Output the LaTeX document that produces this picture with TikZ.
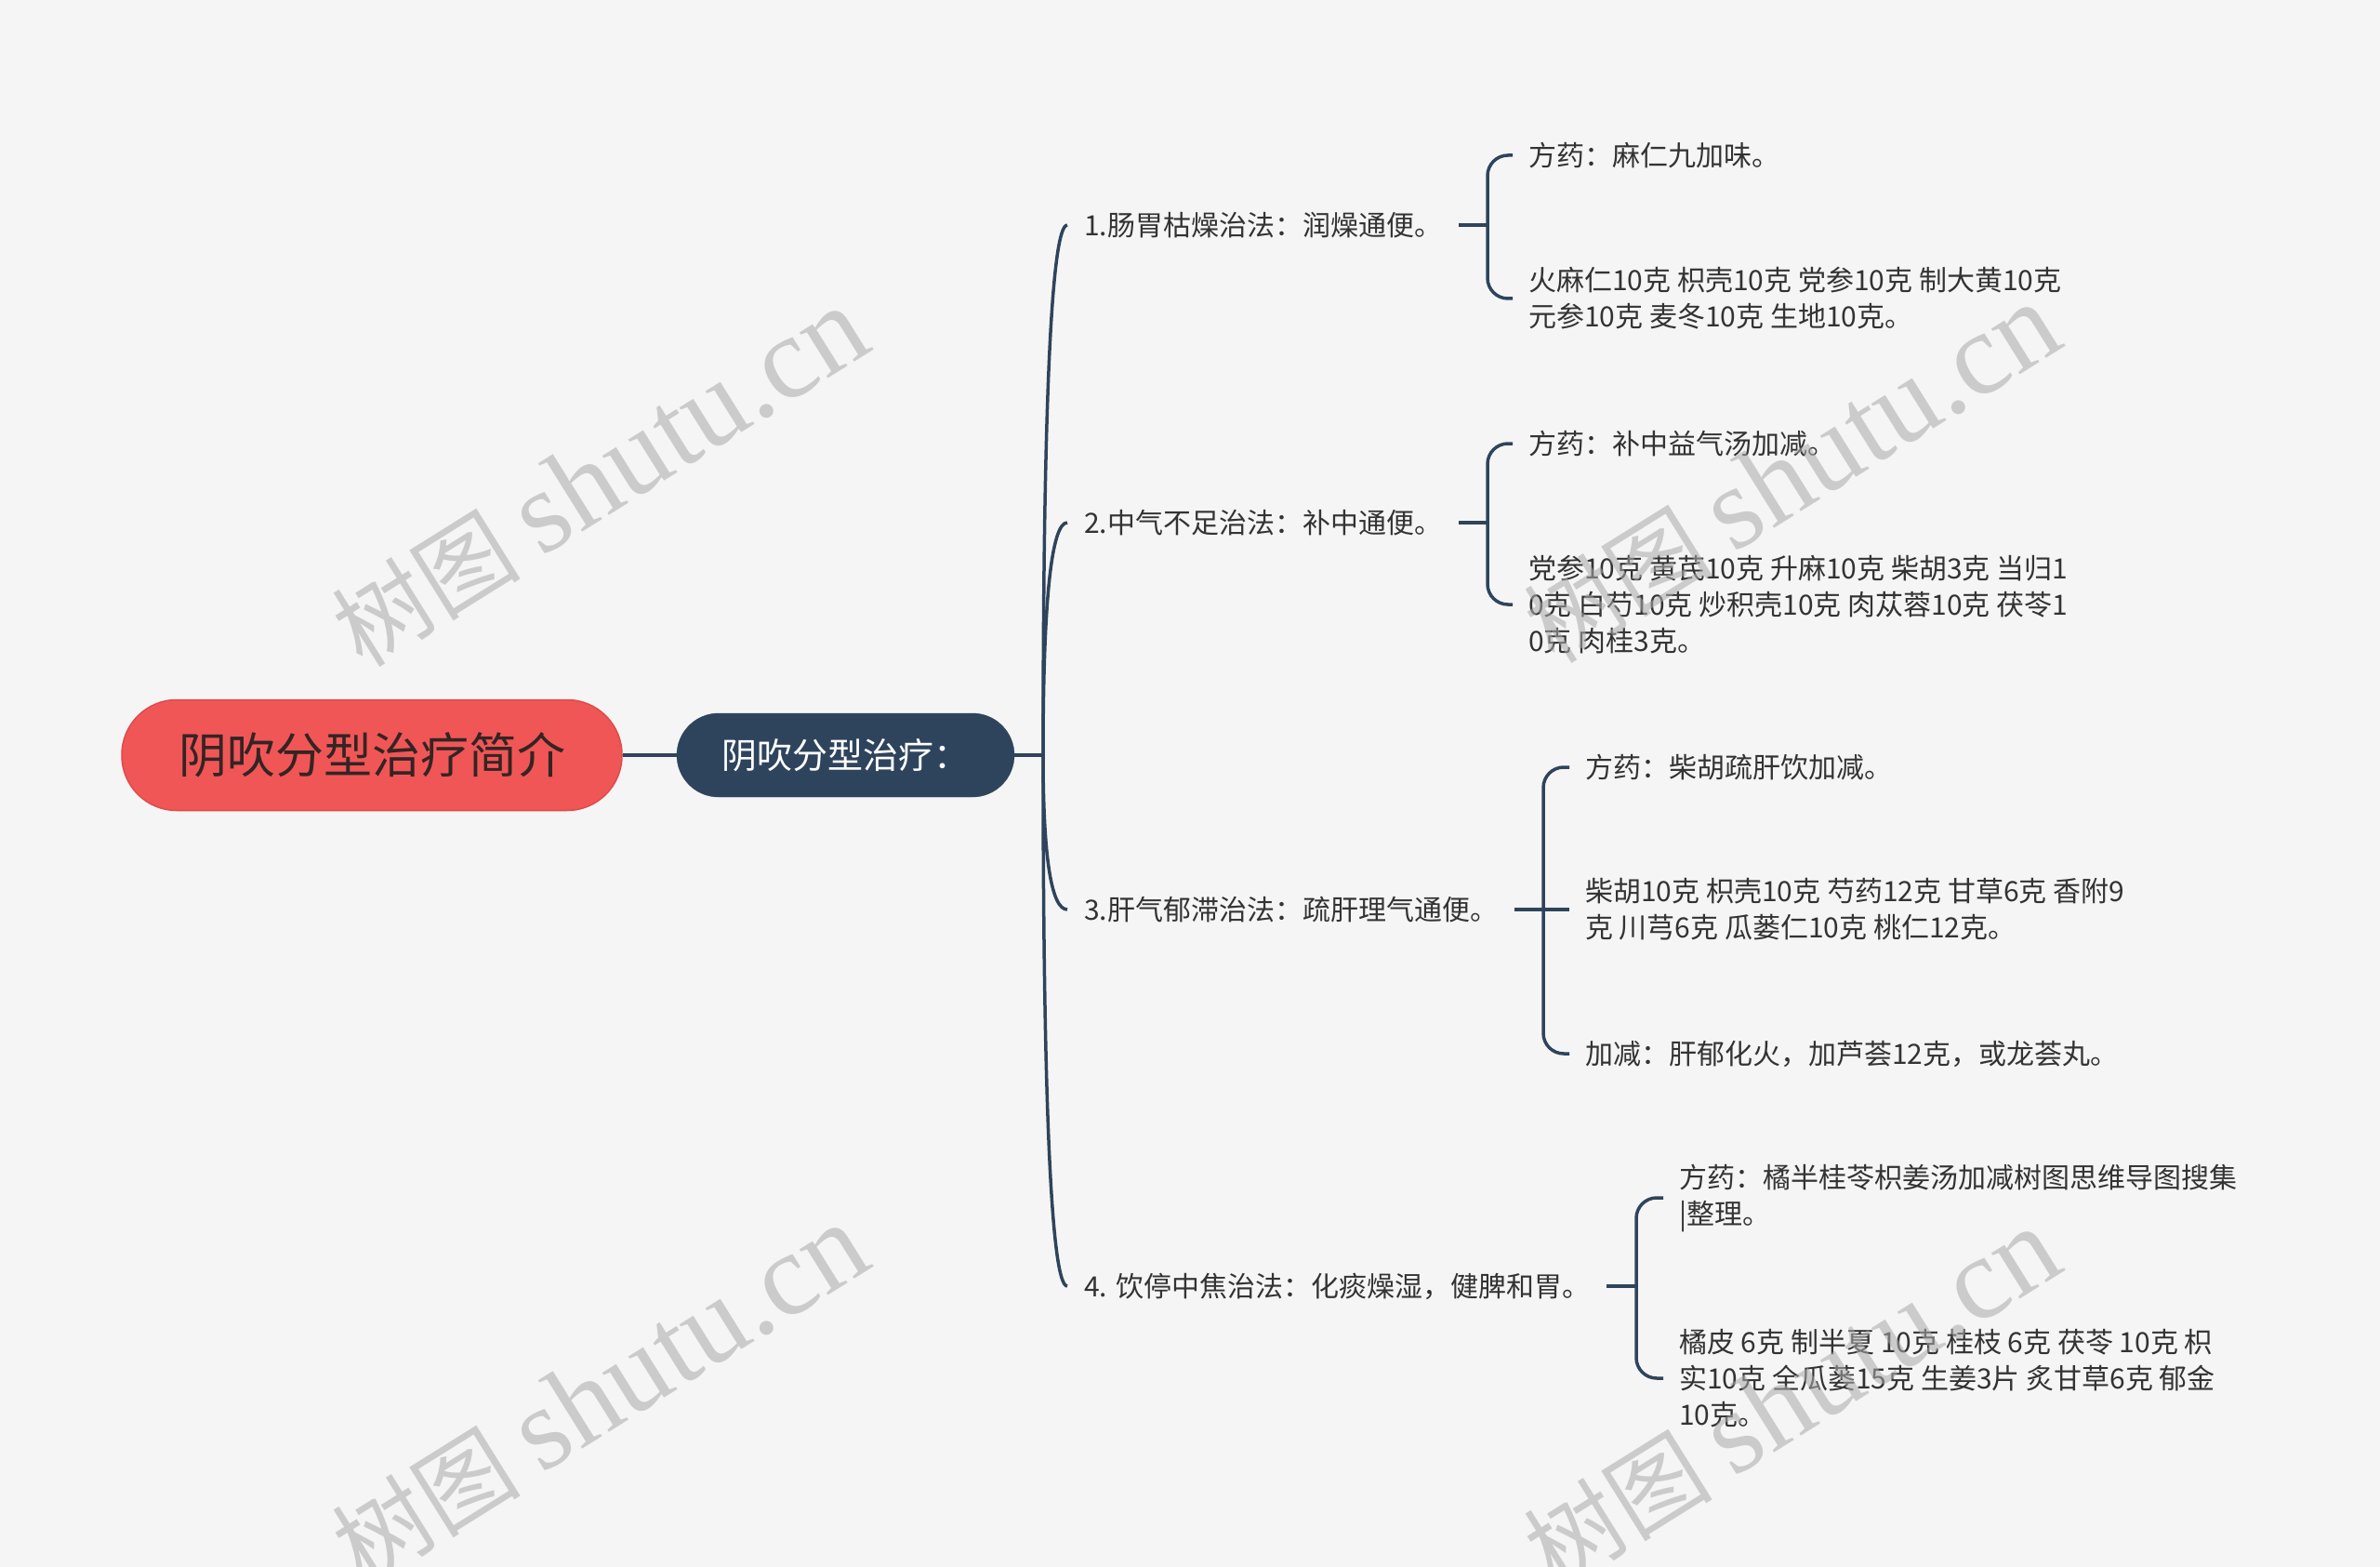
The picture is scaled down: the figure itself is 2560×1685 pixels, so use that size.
\documentclass[tikz,border=0pt]{standalone}
\usepackage{fontspec}
\setmainfont{Noto Sans CJK SC}
\newfontfamily\wmlat{Liberation Serif}
\definecolor{bg}{RGB}{245,245,245}
\definecolor{linec}{RGB}{46,68,92}
\definecolor{rootfill}{RGB}{240,86,86}
\definecolor{rootedge}{RGB}{222,76,76}
\definecolor{roottext}{RGB}{52,36,36}
\definecolor{txt}{RGB}{51,51,51}
\definecolor{wm}{RGB}{170,170,170}
\begin{document}
\begin{tikzpicture}[x=1pt,y=-1pt,
  conn/.style={draw=linec,line width=3.5pt},
  rootbox/.style={fill=rootfill,draw=rootedge,line width=1.5pt,rounded corners=59pt,
    minimum width=538pt,minimum height=119pt,inner sep=0pt,text=roottext,
    font=\fontsize{52}{60}\selectfont},
  mainbox/.style={fill=linec,draw=linec,rounded corners=45pt,
    minimum width=363pt,minimum height=90pt,inner sep=0pt,text=white,
    font=\fontsize{38}{44}\selectfont},
  branch/.style={anchor=west,inner xsep=18pt,inner ysep=2pt,text=txt,align=left,
    font=\fontsize{30}{39}\selectfont},
  leaf/.style={anchor=west,inner xsep=17pt,inner ysep=2pt,text=txt,align=left,
    font=\fontsize{30}{39}\selectfont},
  wmark/.style={rotate=32,text=wm,text opacity=0.55,inner sep=0pt,
    font=\fontsize{102}{120}\selectfont}
]
\fill[bg] (0,0) rectangle (2560,1685);
\useasboundingbox (0,0) rectangle (2560,1685);

% central nodes
\node[rootbox] (root) at (400,812) {阴吹分型治疗简介};
\node[mainbox] (main) at (909.5,812) {阴吹分型治疗：};
\coordinate (J) at (1122,812);

% branches
\node[branch] (b1) at (1148,242) {1.肠胃枯燥治法：润燥通便。};
\node[branch] (b2) at (1148,562) {2.中气不足治法：补中通便。};
\node[branch] (b3) at (1148,978) {3.肝气郁滞治法：疏肝理气通便。};
\node[branch] (b4) at (1148,1383) {4. 饮停中焦治法：化痰燥湿，健脾和胃。};

% junctions
\coordinate (j1) at (1600,242);
\coordinate (j2) at (1600,562);
\coordinate (j3) at (1660,978);
\coordinate (j4) at (1760,1383);

% leaves
\node[leaf] (l1a) at (1627,167) {方药：麻仁九加味。};
\node[leaf] (l1b) at (1627,321) {火麻仁10克 枳壳10克 党参10克 制大黄10克\\元参10克 麦冬10克 生地10克。};
\node[leaf] (l2a) at (1627,477) {方药：补中益气汤加减。};
\node[leaf] (l2b) at (1627,650) {党参10克 黄芪10克 升麻10克 柴胡3克 当归1\\0克 白芍10克 炒积壳10克 肉苁蓉10克 茯苓1\\0克 肉桂3克。};
\node[leaf] (l3a) at (1688,825) {方药：柴胡疏肝饮加减。};
\node[leaf] (l3b) at (1688,978) {柴胡10克 枳壳10克 芍药12克 甘草6克 香附9\\克 川芎6克 瓜蒌仁10克 桃仁12克。};
\node[leaf] (l3c) at (1688,1133) {加减：肝郁化火，加芦荟12克，或龙荟丸。};
\node[leaf] (l4a) at (1789,1288) {方药：橘半桂苓枳姜汤加减树图思维导图搜集\\|整理。};
\node[leaf] (l4b) at (1789,1482) {橘皮 6克 制半夏 10克 桂枝 6克 茯苓 10克 枳\\实10克 全瓜蒌15克 生姜3片 炙甘草6克 郁金\\10克。};

% connectors
\draw[conn] (root.east) -- (main.west);
\draw[conn] (main.east) -- (J);
\draw[conn] (J) .. controls (1122,432) and (1131,242) .. (b1.west);
\draw[conn] (J) .. controls (1122,645) and (1131,562) .. (b2.west);
\draw[conn] (J) .. controls (1122,923) and (1131,978) .. (b3.west);
\draw[conn] (J) .. controls (1122,1193) and (1131,1383) .. (b4.west);

\draw[conn] (b1.east) -- (j1);
\draw[conn,rounded corners=22pt] (j1) |- (l1a.west);
\draw[conn,rounded corners=22pt] (j1) |- (l1b.west);

\draw[conn] (b2.east) -- (j2);
\draw[conn,rounded corners=22pt] (j2) |- (l2a.west);
\draw[conn,rounded corners=22pt] (j2) |- (l2b.west);

\draw[conn] (b3.east) -- (j3);
\draw[conn,rounded corners=22pt] (j3) |- (l3a.west);
\draw[conn] (j3) -- (l3b.west);
\draw[conn,rounded corners=22pt] (j3) |- (l3c.west);

\draw[conn] (b4.east) -- (j4);
\draw[conn,rounded corners=22pt] (j4) |- (l4a.west);
\draw[conn,rounded corners=22pt] (j4) |- (l4b.west);

% watermarks
\node[wmark] (w1) at (645,514) {树图 {\wmlat\fontsize{126}{130}\selectfont shutu.cn}};
\node[wmark] (w2) at (1927,510) {树图 {\wmlat\fontsize{126}{130}\selectfont shutu.cn}};
\node[wmark] (w3) at (645,1500) {树图 {\wmlat\fontsize{126}{130}\selectfont shutu.cn}};
\node[wmark] (w4) at (1927,1504) {树图 {\wmlat\fontsize{126}{130}\selectfont shutu.cn}};
\end{tikzpicture}
\end{document}
